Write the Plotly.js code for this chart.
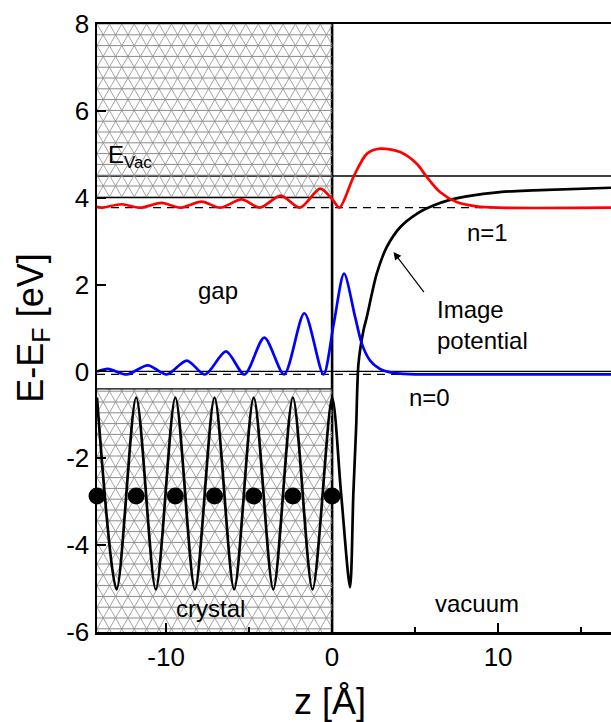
<!DOCTYPE html>
<html>
<head>
<meta charset="utf-8">
<script src="https://cdn.plot.ly/plotly-3.0.1.min.js"></script>
<style>html,body{margin:0;padding:0;background:#fff;}#chart{width:611px;height:722px;}</style>
</head>
<body>
<div id="chart"></div>
<script>
// ---- data ----
// model potential (black)
const potZ = [-14.16, -12.98, -11.80, -10.62, -9.44, -8.26, -7.08, -5.90, -4.72, -3.54, -2.36, -1.18, 0.00,
              0.55, 1.08, 1.28, 1.45, 1.59, 1.89, 2.09, 2.69, 3.29, 4.1, 5.1, 6.1, 7.1, 8.1, 10.1, 12.1, 16.8];
const potE = [-0.60, -5.02, -0.60, -5.02, -0.60, -5.02, -0.60, -5.02, -0.60, -5.02, -0.60, -5.02, -0.60,
              -2.85, -4.97, -2.82, -1.28, 0.18, 0.94, 1.25, 2.25, 2.86, 3.32, 3.63, 3.82, 3.95, 4.03, 4.13, 4.17, 4.23];
// n=0 state (blue)
const n0Z = [-14.16, -13.50, -12.37, -11.10, -9.96, -8.75, -7.65, -6.39, -5.28, -4.08, -2.89, -1.67, -0.52,
             0.10, 0.72, 1.39, 1.79, 2.29, 3.09, 4.1, 6.0, 16.8];
const n0E = [0.00, 0.06, -0.07, 0.14, -0.07, 0.25, -0.07, 0.46, -0.07, 0.78, -0.07, 1.34, -0.07,
             1.10, 2.25, 1.25, 0.64, 0.25, 0.02, -0.05, -0.07, -0.07];
// n=1 state (red)
const n1Z = [-14.16, -13.90, -12.67, -11.57, -10.26, -9.16, -7.85, -6.75, -5.44, -4.34, -3.09, -1.93, -0.72,
             0.00, 0.44, 1.29, 2.09, 2.90, 4.10, 5.10, 5.70, 6.50, 7.50, 8.70, 10.0, 16.8];
const n1E = [3.79, 3.77, 3.85, 3.77, 3.88, 3.77, 3.91, 3.77, 3.96, 3.77, 4.05, 3.77, 4.21,
             3.97, 3.77, 4.48, 5.01, 5.13, 5.05, 4.78, 4.48, 4.13, 3.90, 3.80, 3.77, 3.77];
// atom layers
const atomZ = [-14.16, -11.80, -9.44, -7.08, -4.72, -2.36, 0.00];
const atomE = [-2.87, -2.87, -2.87, -2.87, -2.87, -2.87, -2.87];
// energy levels
const E_VAC = 4.5, E_FERMI = 0.0, CB_EDGE = 4.0, VB_EDGE = -0.4, E_N0 = -0.07, E_N1 = 3.77;
const SURFACE_Z = 0.0;
const X_RANGE = [-14.16, 16.8], Y_RANGE = [-6, 8];
const xTicks = [-10, 0, 10], xMinor = [-5, 5, 15];
const yTicks = [-6, -4, -2, 0, 2, 4, 6, 8];

// ---- layout geometry ----
const W = 611, H = 722, ML = 97, MR = 0, MT = 24, MB = 90;
const PW = W - ML - MR, PH = H - MT - MB;
const pxX = PW / (X_RANGE[1] - X_RANGE[0]);
const pxY = PH / (Y_RANGE[1] - Y_RANGE[0]);
const toZ = px => X_RANGE[0] + px / pxX;
const toE = py => Y_RANGE[1] - py / pxY;

// hatch (triangular lattice) clipped to a data rectangle
function hatch(z0, z1, e0, e1) {
  const X0 = (z0 - X_RANGE[0]) * pxX, X1 = (z1 - X_RANGE[0]) * pxX;
  const Y0 = (Y_RANGE[1] - e1) * pxY, Y1 = (Y_RANGE[1] - e0) * pxY;
  const h = 10.8, w = 12.4, m = w / (2 * h);
  let hp = '', dp = '';
  for (let k = Math.ceil(Y0 / h); k * h <= Y1; k++) {
    const y = k * h;
    hp += `M${toZ(X0)},${toE(y)}L${toZ(X1)},${toE(y)}`;
  }
  for (const s of [1, -1]) {
    for (let k = -200; k <= 200; k++) {
      const c = k * w;
      let ya, yb;
      if (s === 1) { ya = (X0 - c) / m; yb = (X1 - c) / m; }
      else { ya = (c - X1) / m; yb = (c - X0) / m; }
      const lo = Math.max(ya, Y0), hi = Math.min(yb, Y1);
      if (hi - lo > 0.5) {
        dp += `M${toZ(c + s * m * lo)},${toE(lo)}L${toZ(c + s * m * hi)},${toE(hi)}`;
      }
    }
  }
  return [
    {type: 'path', path: dp, xref: 'x', yref: 'y', layer: 'below', line: {color: '#9a9a9a', width: 0.9}},
    {type: 'path', path: hp, xref: 'x', yref: 'y', layer: 'below', line: {color: '#8a8a8a', width: 1.0}}
  ];
}

const shapes = [
  ...hatch(X_RANGE[0], SURFACE_Z, CB_EDGE, Y_RANGE[1]),
  ...hatch(X_RANGE[0], SURFACE_Z, Y_RANGE[0], VB_EDGE),
  {type: 'line', xref: 'x', yref: 'y', x0: X_RANGE[0], x1: SURFACE_Z, y0: CB_EDGE, y1: CB_EDGE, layer: 'below', line: {color: '#000', width: 1.3}},
  {type: 'line', xref: 'x', yref: 'y', x0: X_RANGE[0], x1: SURFACE_Z, y0: VB_EDGE, y1: VB_EDGE, layer: 'below', line: {color: '#000', width: 1.3}},
  {type: 'line', xref: 'paper', yref: 'y', x0: 0, x1: 1, y0: E_VAC, y1: E_VAC, layer: 'below', line: {color: '#000', width: 1.3}},
  {type: 'line', xref: 'paper', yref: 'y', x0: 0, x1: 1, y0: E_FERMI, y1: E_FERMI, layer: 'below', line: {color: '#000', width: 1.3}},
  {type: 'line', xref: 'paper', yref: 'y', x0: 0, x1: 1, y0: E_N1, y1: E_N1, layer: 'below', line: {color: '#000', width: 1.2, dash: '8px,6px'}},
  {type: 'line', xref: 'paper', yref: 'y', x0: 0, x1: 1, y0: E_N0, y1: E_N0, layer: 'below', line: {color: '#000', width: 1.2, dash: '8px,6px'}},
  {type: 'line', xref: 'x', yref: 'paper', x0: SURFACE_Z, x1: SURFACE_Z, y0: 0, y1: 1, layer: 'below', line: {color: '#000', width: 2.6}}
];

const traces = [
  {x: potZ, y: potE, mode: 'lines', line: {color: '#000', width: 2.7, shape: 'spline', smoothing: 0.8}, hoverinfo: 'skip'},
  {x: n0Z, y: n0E, mode: 'lines', line: {color: '#0000ff', width: 2.7, shape: 'spline', smoothing: 0.8}, hoverinfo: 'skip'},
  {x: n1Z, y: n1E, mode: 'lines', line: {color: '#ff0000', width: 2.7, shape: 'spline', smoothing: 0.8}, hoverinfo: 'skip'},
  {x: atomZ, y: atomE, mode: 'markers', marker: {color: '#000', size: 17, symbol: 'circle'}, cliponaxis: false, hoverinfo: 'skip'}
];

const FONT = 'Liberation Sans, Arial, Helvetica, sans-serif';
const ann = (x, y, text, opts = {}) => Object.assign({x, y, xref: 'x', yref: 'y', text, showarrow: false,
  font: {family: FONT, size: 24, color: '#000'}}, opts);

const annotations = [
  ann(-13.6, 4.55, 'E<sub>Vac</sub>', {xanchor: 'left', yanchor: 'bottom'}),
  ann(-6.87, 1.87, 'gap'),
  ann(-7.35, -5.46, 'crystal'),
  ann(8.73, -5.35, 'vacuum'),
  ann(5.84, -0.6, 'n=0'),
  ann(9.34, 3.2, 'n=1'),
  ann(6.2, 1.06, 'Image<br>potential', {xanchor: 'left', align: 'left'}),
  {x: 3.7, y: 2.75, xref: 'x', yref: 'y', ax: 5.6, ay: 1.79, axref: 'x', ayref: 'y', text: '',
   showarrow: true, arrowhead: 2, arrowsize: 1.3, arrowwidth: 1.2, arrowcolor: '#000'},
  // x-axis title, centred under z = 0 as in the reference
  {x: -0.1, y: -0.115, xref: 'x', yref: 'paper', text: 'z [Å]', showarrow: false,
   xanchor: 'center', yanchor: 'middle', font: {family: FONT, size: 36, color: '#000'}}
];

const layout = {
  width: W, height: H,
  margin: {l: ML, r: MR, t: MT, b: MB, pad: 0},
  paper_bgcolor: '#fff', plot_bgcolor: '#fff',
  showlegend: false,
  font: {family: FONT, size: 26, color: '#000'},
  xaxis: {
    range: X_RANGE, tickvals: xTicks, ticktext: xTicks.map(String),
    ticks: 'inside', ticklen: 9, tickwidth: 2, tickcolor: '#000',
    minor: {tickvals: xMinor, ticks: 'inside', ticklen: 5, tickwidth: 2, tickcolor: '#000'},
    showline: true, linewidth: 2.5, linecolor: '#000', mirror: true,
    showgrid: false, zeroline: false,
    tickfont: {family: FONT, size: 26, color: '#000'}
  },
  yaxis: {
    range: Y_RANGE, tickvals: yTicks, ticktext: yTicks.map(String),
    ticks: 'inside', ticklen: 9, tickwidth: 2, tickcolor: '#000',
    showline: true, linewidth: 2.5, linecolor: '#000', mirror: false,
    showgrid: false, zeroline: false,
    tickfont: {family: FONT, size: 26, color: '#000'},
    title: {text: 'E-E<sub>F</sub> [eV]', font: {family: FONT, size: 36, color: '#000'}, standoff: 12}
  },
  shapes, annotations
};

Plotly.newPlot('chart', traces, layout, {staticPlot: true, displayModeBar: false});
</script>
</body>
</html>
